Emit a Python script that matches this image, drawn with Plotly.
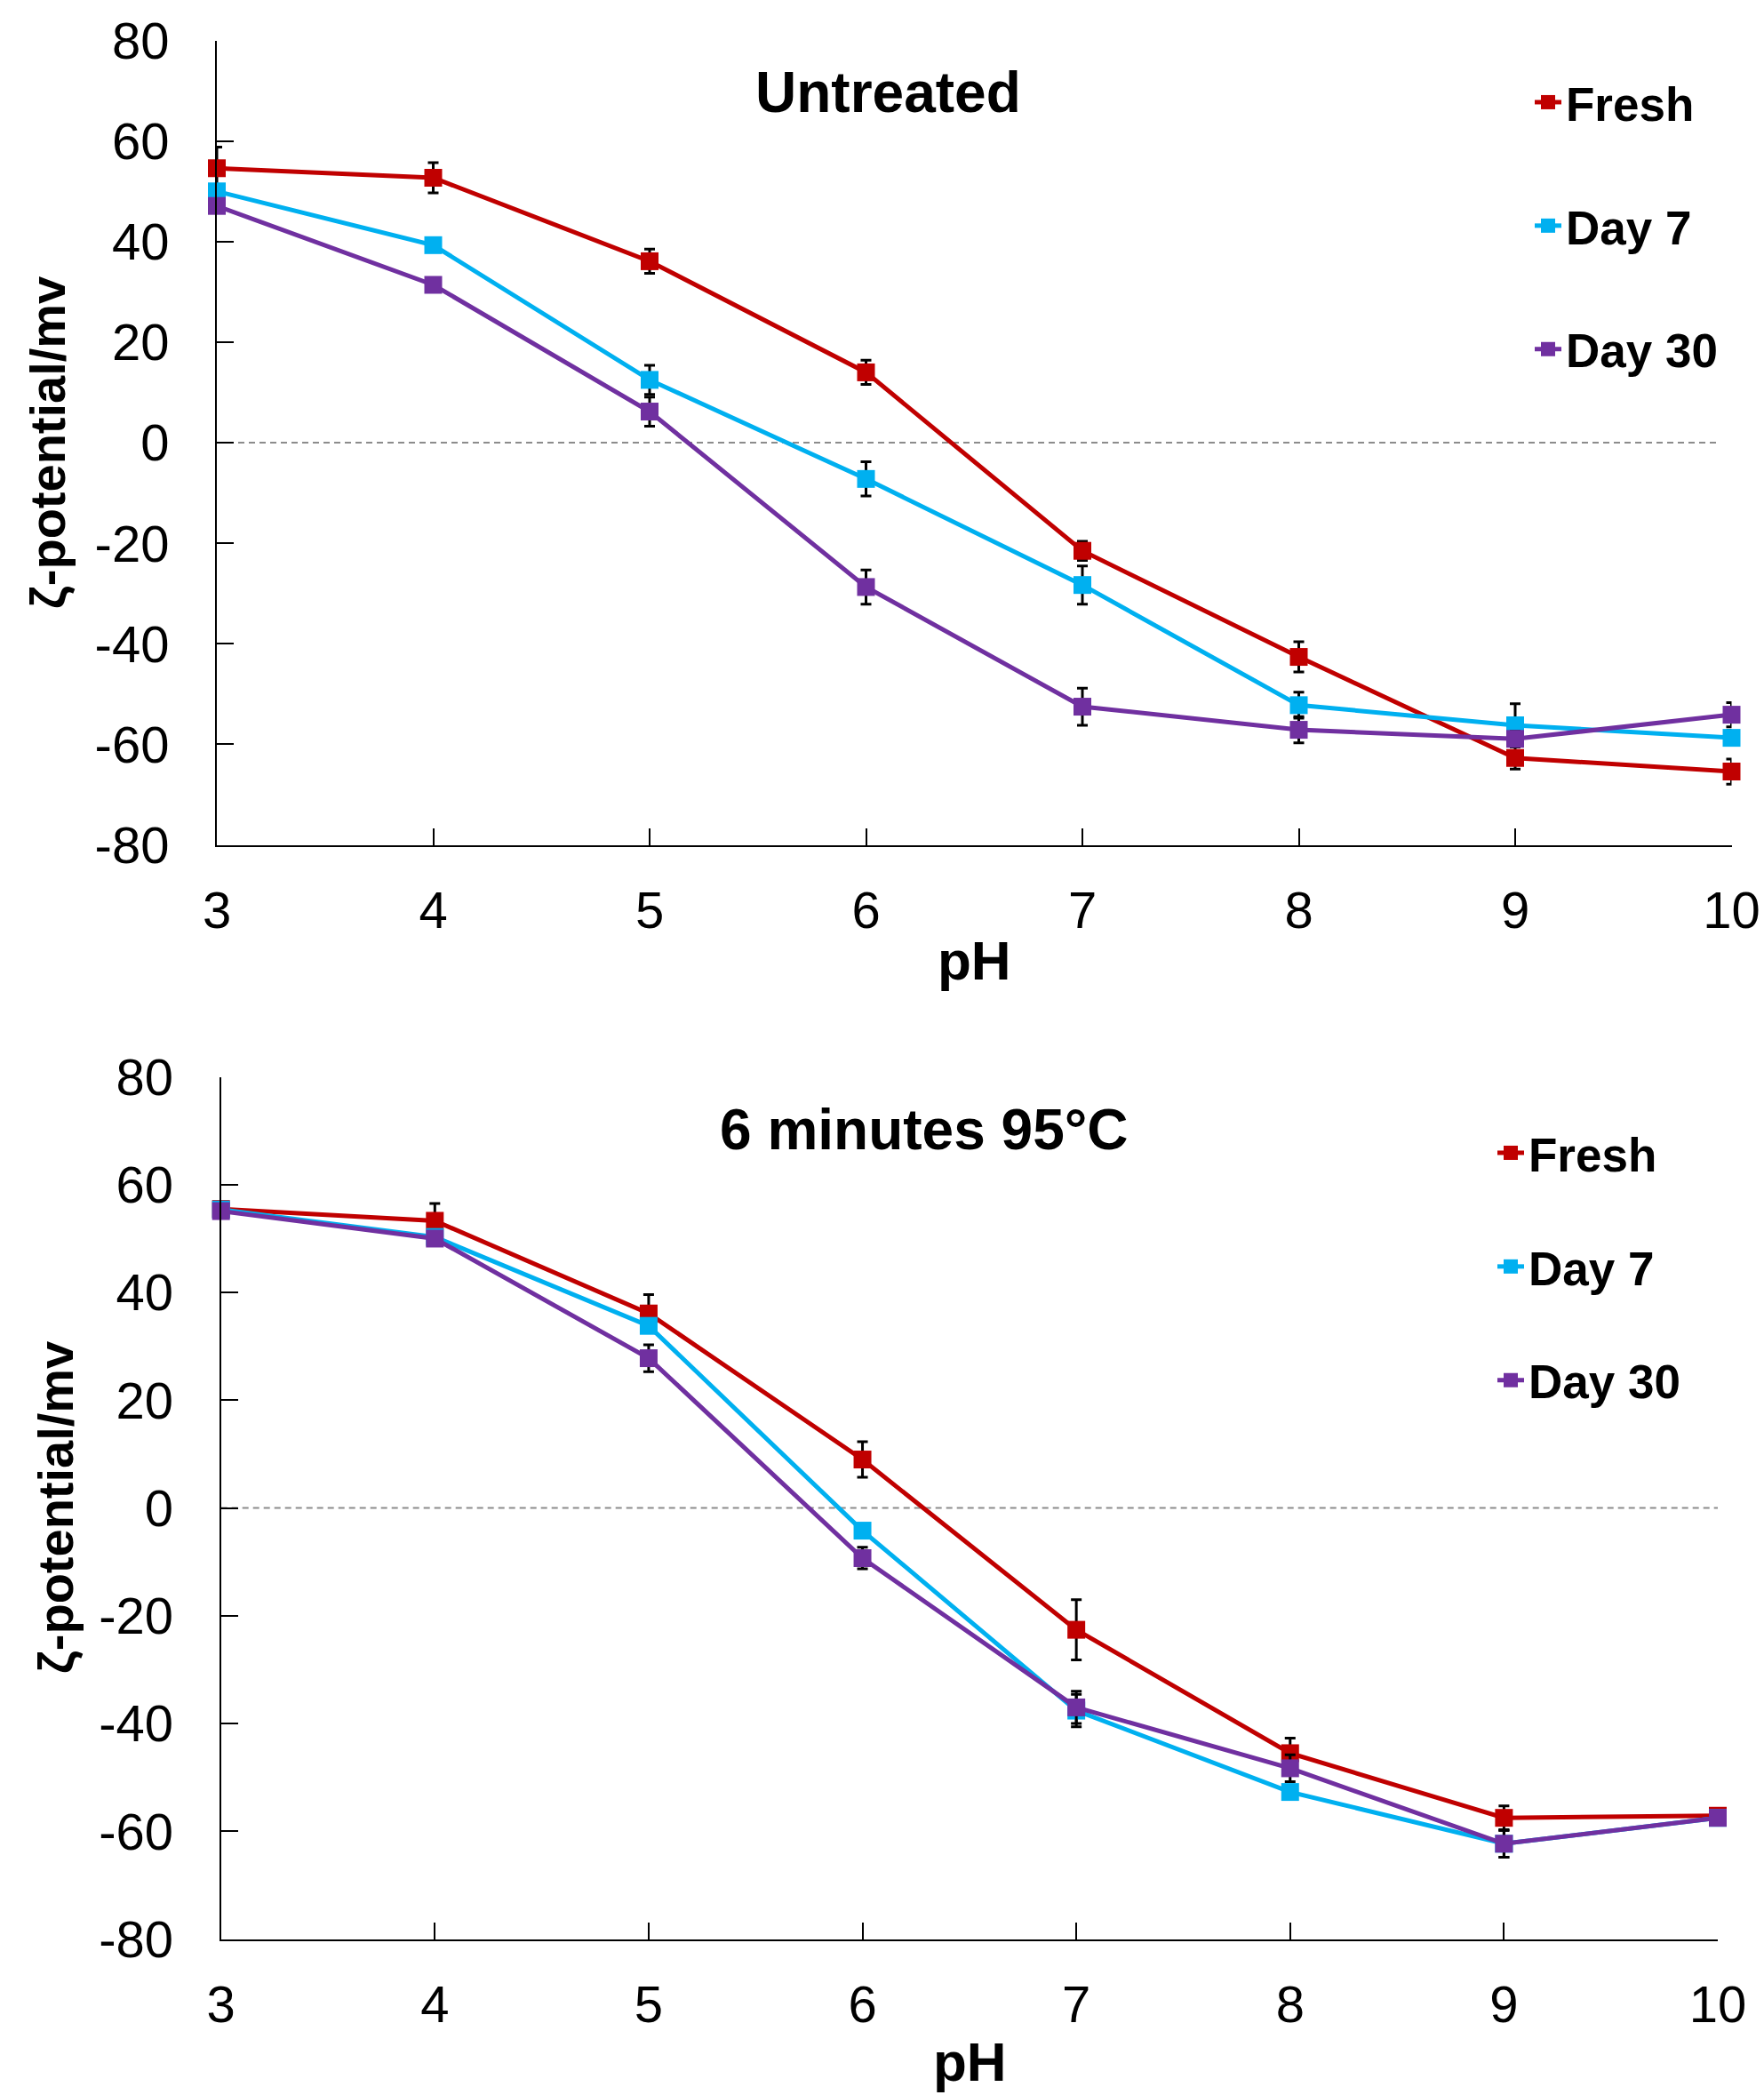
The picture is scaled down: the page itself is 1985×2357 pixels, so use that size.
import plotly.graph_objects as go

ph = [3, 4, 5, 6, 7, 8, 9, 10]
x_ticks = [3, 4, 5, 6, 7, 8, 9, 10]
x_ticktext = ["3", "4", "5", "6", "7", "8", "9", "10"]
y_ticks = [-80, -60, -40, -20, 0, 20, 40, 60, 80]
y_ticktext = ["-80", "-60", "-40", "-20", "0", "20", "40", "60", "80"]

# Untreated
top_fresh = [54.6, 52.7, 36.1, 14.0, -21.5, -42.6, -62.7, -65.4]
top_fresh_err = [4.2, 3.0, 2.4, 2.4, 1.9, 3.0, 2.2, 2.5]
top_day7 = [50.0, 39.3, 12.5, -7.2, -28.3, -52.2, -56.2, -58.7]
top_day7_err = [1.0, 1.0, 2.9, 3.4, 3.8, 2.6, 4.3, 1.5]
top_day30 = [47.1, 31.4, 6.2, -28.7, -52.5, -57.1, -58.9, -54.1]
top_day30_err = [1.0, 1.0, 2.9, 3.4, 3.7, 2.6, 1.5, 2.4]

# 6 minutes 95°C
bot_fresh = [55.5, 53.3, 36.1, 9.0, -22.6, -45.5, -57.5, -57.1]
bot_fresh_err = [1.0, 3.2, 3.5, 3.3, 5.6, 2.8, 2.2, 1.0]
bot_day7 = [55.4, 50.3, 33.8, -4.2, -37.6, -52.7, -62.3, -57.5]
bot_day7_err = [1.0, 1.0, 1.0, 1.0, 3.0, 1.0, 2.5, 1.0]
bot_day30 = [55.1, 50.0, 27.8, -9.3, -37.0, -48.3, -62.3, -57.5]
bot_day30_err = [1.0, 1.0, 2.5, 2.0, 3.0, 2.5, 2.5, 1.0]

names = ["Fresh", "Day 7", "Day 30"]
colors = ["#C00000", "#00B0F0", "#7030A0"]

W, H = 1985, 2357
FONT = "Liberation Sans, Arial, sans-serif"

fig = go.Figure()

def add_series(ys, errs, xa, ya, leg):
    for name, col, y, e in zip(names, colors, ys, errs):
        fig.add_trace(go.Scatter(
            x=ph, y=y, name=name, mode="lines+markers",
            line=dict(color=col, width=5),
            marker=dict(symbol="square", size=20, color=col),
            error_y=dict(type="data", array=e, visible=True, color="black",
                         thickness=3, width=6),
            xaxis=xa, yaxis=ya, legend=leg, legendgroup=leg + name,
            cliponaxis=False,
        ))

add_series([top_fresh, top_day7, top_day30],
           [top_fresh_err, top_day7_err, top_day30_err], "x", "y", "legend")
add_series([bot_fresh, bot_day7, bot_day30],
           [bot_fresh_err, bot_day7_err, bot_day30_err], "x2", "y2", "legend2")

def xd(a, b):
    return [a / W, b / W]

def yd(top, bottom):
    return [1 - bottom / H, 1 - top / H]

xaxis_common = dict(range=[3, 10], tickmode="array", tickvals=x_ticks, ticktext=x_ticktext,
                    showline=True, linecolor="black",
                    linewidth=2, ticks="inside", ticklen=19, tickwidth=1.5,
                    tickcolor="black", showgrid=False, zeroline=False,
                    tickfont=dict(family=FONT, size=58, color="black"),
                    ticklabelstandoff=22, automargin=False)
yaxis_common = dict(range=[-80, 80], tickmode="array", tickvals=y_ticks, ticktext=y_ticktext,
                    showline=True, linecolor="black",
                    linewidth=2, ticks="inside", ticklen=19, tickwidth=1.5,
                    tickcolor="black", showgrid=False, zeroline=False,
                    tickfont=dict(family=FONT, size=58, color="black"),
                    ticklabelstandoff=40, automargin=False)

fig.update_layout(
    width=W, height=H,
    margin=dict(l=0, r=0, t=0, b=0, autoexpand=False),
    paper_bgcolor="white", plot_bgcolor="white",
    xaxis=dict(domain=xd(244, 1948.5), anchor="y", **xaxis_common),
    yaxis=dict(domain=yd(45.6, 950.6), anchor="x", **yaxis_common),
    xaxis2=dict(domain=xd(248.7, 1933), anchor="y2", **xaxis_common),
    yaxis2=dict(domain=yd(1211.6, 2181.6), anchor="x2", **yaxis_common),
    legend=dict(x=1722 / W, y=1 - 74 / H, xanchor="left", yanchor="top",
                font=dict(family=FONT, size=53, color="black", weight="bold"),
                bgcolor="rgba(0,0,0,0)", tracegroupgap=67, itemwidth=30),
    legend2=dict(x=1680 / W, y=1 - 1256 / H, xanchor="left", yanchor="top",
                 font=dict(family=FONT, size=53, color="black", weight="bold"),
                 bgcolor="rgba(0,0,0,0)", tracegroupgap=56, itemwidth=30),
    showlegend=True,
)

for xa, ya, x1 in [("x", "y", 9.93), ("x2", "y2", 10)]:
    fig.add_shape(type="line", xref=xa, yref=ya, x0=3, x1=x1, y0=0, y1=0,
                  line=dict(color="#8c8c8c", width=2, dash="7px,5px"), layer="below")

ann = [
    dict(text="Untreated", x=999 / W, y=1 - 104 / H, size=64),
    dict(text="6 minutes 95°C", x=1040 / W, y=1 - 1271 / H, size=64),
    dict(text="pH", x=1096 / W, y=1 - 1080 / H, size=62),
    dict(text="pH", x=1091 / W, y=1 - 2319 / H, size=62),
]
for a in ann:
    fig.add_annotation(text=a["text"], x=a["x"], y=a["y"], xref="paper", yref="paper",
                       xanchor="center", yanchor="middle", showarrow=False,
                       font=dict(family=FONT, size=a["size"], color="black", weight="bold"))

for xc, yc in [(54, 498), (62, 1696)]:
    fig.add_annotation(text="ζ-potential/mv", x=xc / W, y=1 - yc / H, xref="paper",
                       yref="paper", xanchor="center", yanchor="middle", textangle=-90,
                       showarrow=False,
                       font=dict(family=FONT, size=56, color="black", weight="bold"))

fig.write_html("out.html")
